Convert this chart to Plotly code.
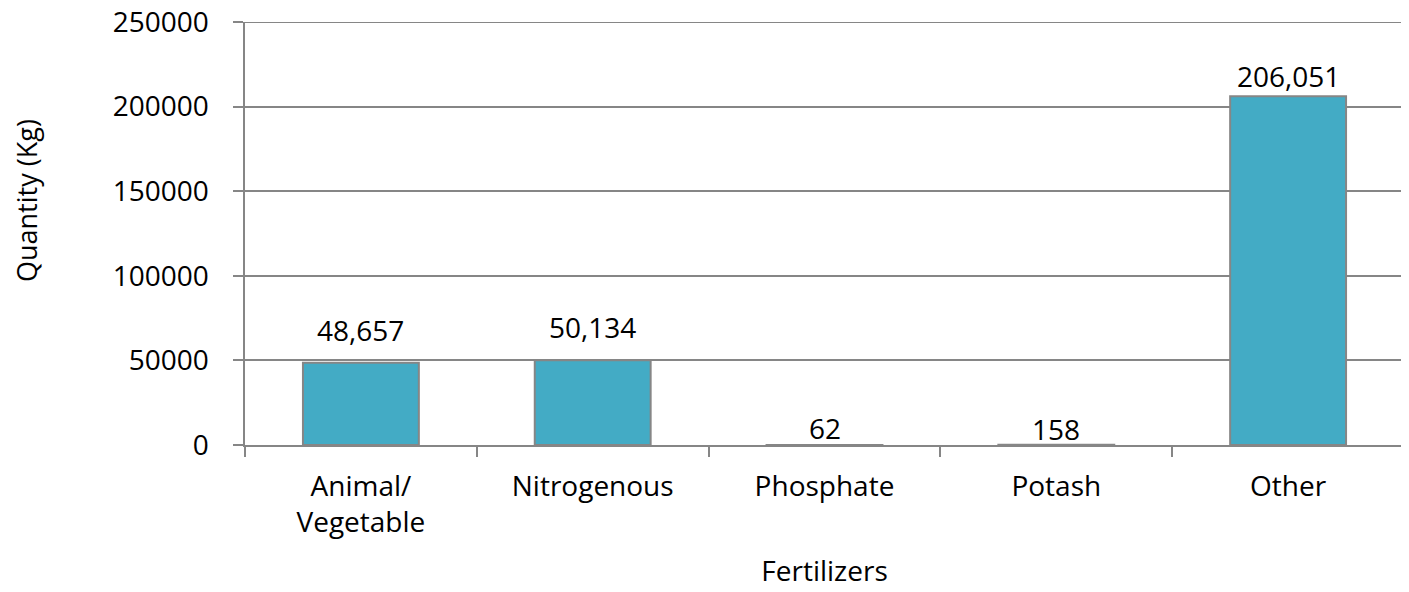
import plotly.graph_objects as go

categories = ["Animal/<br>Vegetable", "Nitrogenous", "Phosphate", "Potash", "Other"]
quantities = [48657, 50134, 62, 158, 206051]
y_ticks = [0, 50000, 100000, 150000, 200000, 250000]

# style: pixel gap between each value label and the top of its bar
label_gap_px = [21, 21, 5, 4, 8]

FONT = "Open Sans"
GRAY = "#868686"

fig = go.Figure()
fig.add_trace(go.Bar(
    x=categories,
    y=quantities,
    width=0.5,
    marker=dict(color="#43ABC5", line=dict(color=GRAY, width=2)),
    hoverinfo="x+y",
))

for cat, val, gap in zip(categories, quantities, label_gap_px):
    fig.add_annotation(
        x=cat, y=val, xref="x", yref="y",
        text=f"{val:,}", showarrow=False,
        xanchor="center", yanchor="bottom", yshift=gap - 9,
        font=dict(family=FONT, size=28, color="#000000"),
    )

# top gridline (plotly drops the grid line sitting exactly on the plot edge)
fig.add_hline(y=y_ticks[-1], line=dict(color=GRAY, width=2), layer="below")

fig.update_layout(
    width=1409, height=584,
    margin=dict(l=237, r=13, t=14, b=147, autoexpand=False),
    plot_bgcolor="white", paper_bgcolor="white",
    font=dict(family=FONT, color="#000000"),
    showlegend=False,
    bargap=0.5,
)
fig.update_xaxes(
    title=dict(text="Fertilizers", font=dict(family=FONT, size=28), standoff=22),
    tickfont=dict(family=FONT, size=28),
    showline=True, linecolor=GRAY, linewidth=2,
    ticks="outside", tickson="boundaries", ticklen=10, tickcolor=GRAY, tickwidth=2,
    ticklabelstandoff=15,
    showgrid=False, automargin=False,
)
fig.update_yaxes(
    tickfont=dict(family=FONT, size=28),
    range=[0, 250000], tickvals=y_ticks,
    ticktext=[f"{v}\u2002\u2009" for v in y_ticks],
    ticklabeloverflow="allow",
    showline=True, linecolor=GRAY, linewidth=2,
    ticks="outside", ticklen=10, tickcolor=GRAY, tickwidth=2,
    showgrid=True, gridcolor=GRAY, gridwidth=2,
    zeroline=False, automargin=False,
)
fig.add_annotation(
    text="Quantity (Kg)", textangle=-90,
    xref="paper", yref="paper", x=(27 - 245) / 1159, y=(445 - 201) / 423,
    xanchor="center", yanchor="middle", showarrow=False,
    font=dict(family=FONT, size=27, color="#000000"),
)

fig.write_html("out.html")
